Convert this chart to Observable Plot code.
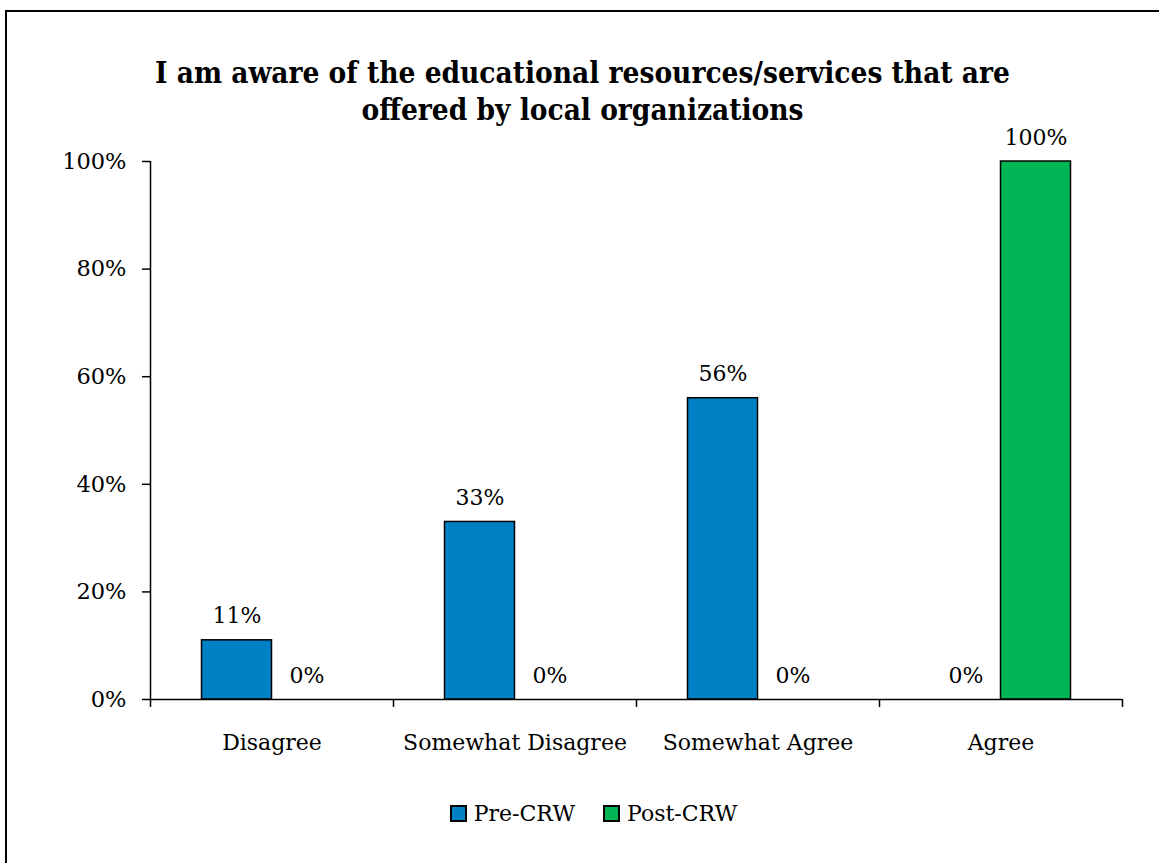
<!DOCTYPE html>
<html>
<head>
<meta charset="utf-8">
<script src="https://cdn.jsdelivr.net/npm/d3@7"></script>
<script src="https://cdn.jsdelivr.net/npm/@observablehq/plot@0.6"></script>
<style>
  html, body { margin: 0; padding: 0; background: #fff; }
  #frame { position: absolute; left: 5px; top: 10px; width: 1170px; height: 880px; border: 2px solid #000; box-sizing: border-box; }
  #chart { position: absolute; left: 0; top: 0; width: 1159px; }
  #title { height: 74px; padding-top: 54px; padding-left: 6px; text-align: center; font-family: "DejaVu Serif"; font-stretch: condensed; font-weight: bold; font-size: 29.5px; line-height: 37px; color: #000; }
  #legend { display: flex; justify-content: center; align-items: center; margin-top: 42px; padding-left: 28px; font-family: "DejaVu Serif"; font-size: 22px; color: #000; }
  .item { display: flex; align-items: center; margin: 0 14px; }
  .swatch { width: 13px; height: 13px; border: 2px solid #000; margin-right: 7px; }
</style>
</head>
<body>
<div id="frame"></div>
<div id="chart">
  <div id="title">I am aware of the educational resources/services that are<br>offered by local organizations</div>
  <div id="plot"></div>
  <div id="legend"></div>
</div>
<script>
const categories = ["Disagree", "Somewhat Disagree", "Somewhat Agree", "Agree"];
const seriesNames = ["Pre-CRW", "Post-CRW"];
const preValues = [0.11, 0.33, 0.56, 0.00];
const postValues = [0.00, 0.00, 0.00, 1.00];
const yTicks = [0, 0.2, 0.4, 0.6, 0.8, 1.0];
const seriesColors = ["#0081c6", "#00b553"];

const preData = categories.map((c, i) => ({category: c, series: seriesNames[0], value: preValues[i]}));
const postData = categories.map((c, i) => ({category: c, series: seriesNames[1], value: postValues[i]}));

const W = 1159, left = 150, right = 1122;
const bw = (right - left) / categories.length;
const outer = 51.5, inner = bw - outer - 70;
const pct = d => Math.round(d * 100) + "%";

const chart = Plot.plot({
  width: W,
  height: 631,
  marginTop: 33,
  marginLeft: left,
  marginRight: W - right,
  marginBottom: 60,
  style: {fontFamily: "DejaVu Serif", fontSize: "22px", color: "#000", background: "transparent", overflow: "visible"},
  x: {domain: categories, padding: 0, axis: null},
  y: {domain: [0, 1], axis: null},
  color: {domain: seriesNames, range: seriesColors},
  marks: [
    Plot.axisY({ticks: yTicks, tickFormat: pct, tickSize: 8, tickPadding: 16, fontSize: 22.5, strokeWidth: 1.5, label: null}),
    Plot.axisX({tickSize: 0, tickPadding: 35, fontSize: 22, label: null}),
    Plot.barY(preData, {x: "category", y: "value", fill: "series", stroke: "#000", strokeWidth: 1.5, insetLeft: outer, insetRight: inner}),
    Plot.barY(postData, {x: "category", y: "value", fill: "series", stroke: "#000", strokeWidth: 1.5, insetLeft: inner, insetRight: outer}),
    Plot.ruleY([0], {stroke: "#000", strokeWidth: 1.5}),
    Plot.ruleX([categories[0]], {x: d => d, y1: 0, y2: 1, dx: -bw / 2, stroke: "#000", strokeWidth: 1.5}),
    Plot.ruleX(categories, {x: d => d, y1: 0, y2: 0, insetBottom: -8, dx: -bw / 2, stroke: "#000", strokeWidth: 1.5}),
    Plot.ruleX([categories[categories.length - 1]], {x: d => d, y1: 0, y2: 0, insetBottom: -8, dx: bw / 2, stroke: "#000", strokeWidth: 1.5}),
    Plot.text(preData, {x: "category", y: "value", text: d => pct(d.value), dx: -35, dy: -17, lineAnchor: "bottom", fontSize: 22, fill: "#000"}),
    Plot.text(postData, {x: "category", y: "value", text: d => pct(d.value), dx: 35, dy: -17, lineAnchor: "bottom", fontSize: 22, fill: "#000"})
  ]
});
document.getElementById("plot").appendChild(chart);

const legend = document.getElementById("legend");
seriesNames.forEach((s, i) => {
  const item = document.createElement("div");
  item.className = "item";
  const sw = document.createElement("span");
  sw.className = "swatch";
  sw.style.background = seriesColors[i];
  const label = document.createElement("span");
  label.textContent = s;
  item.appendChild(sw);
  item.appendChild(label);
  legend.appendChild(item);
});
</script>
</body>
</html>
